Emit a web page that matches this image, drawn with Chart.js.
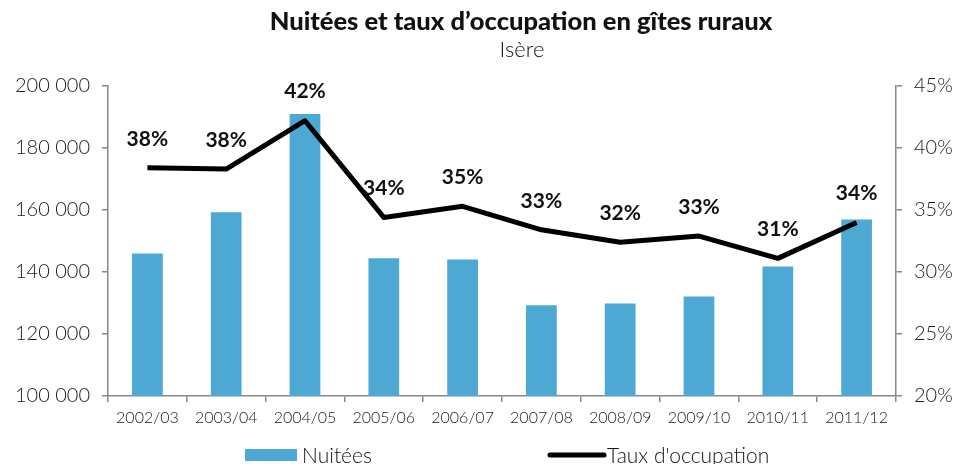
<!DOCTYPE html>
<html>
<head>
<meta charset="utf-8">
<script src="https://cdn.jsdelivr.net/npm/chart.js@4"></script>
<style>
    html, body { margin: 0; padding: 0; background: #fff; }
    #wrap { width: 958px; height: 464px; }
</style>
</head>
<body>
<div id="wrap"><canvas id="chart" width="958" height="464"></canvas></div>
<script>
// data
const saisons = ["2002/03", "2003/04", "2004/05", "2005/06", "2006/07", "2007/08", "2008/09", "2009/10", "2010/11", "2011/12"];
const nuitees = [146000, 159300, 191000, 144400, 144000, 129300, 129800, 132100, 141800, 156900];
const tauxOccupation = [38.4, 38.3, 42.2, 34.4, 35.3, 33.4, 32.4, 32.9, 31.1, 34.0];
const ticksNuitees = [100000, 120000, 140000, 160000, 180000, 200000];
const ticksTaux = [20, 25, 30, 35, 40, 45];

const titre = "Nuitées et taux d’occupation en gîtes ruraux";
const sousTitre = "Isère";

const bleu = "#4ea8d4";
const police = "Lato, 'Open Sans', sans-serif";

function formatMilliers(v) {
    return String(v).replace(/\B(?=(\d{3})+(?!\d))/g, " ");
}

// title, value labels and legend
const decor = {
    id: "decor",
    afterDraw(chart) {
        const ctx = chart.ctx;
        ctx.save();
        ctx.textAlign = "center";
        ctx.textBaseline = "middle";
        ctx.fillStyle = "#111";
        ctx.font = "900 25.5px " + police;
        ctx.fillText(titre, 521, 22);
        ctx.font = "300 22px " + police;
        ctx.fillText(sousTitre, 522, 50);

        // percent labels above the line
        const meta = chart.getDatasetMeta(1);
        ctx.font = "bold 21px " + police;
        meta.data.forEach((pt, i) => {
            ctx.fillText(Math.round(tauxOccupation[i]) + "%", pt.x, pt.y - 29);
        });

        // legend
        ctx.textAlign = "left";
        ctx.font = "300 21px " + police;
        ctx.fillStyle = bleu;
        ctx.fillRect(245, 449, 52, 12);
        ctx.fillStyle = "#111";
        ctx.fillText(chart.data.datasets[0].label, 302, 456);
        ctx.strokeStyle = "#000";
        ctx.lineWidth = 5;
        ctx.lineCap = "round";
        ctx.beginPath();
        ctx.moveTo(550, 455);
        ctx.lineTo(604, 455);
        ctx.stroke();
        ctx.fillText(chart.data.datasets[1].label, 607, 456);
        ctx.restore();
    }
};

new Chart(document.getElementById("chart"), {
    data: {
        labels: saisons,
        datasets: [
            {
                type: "bar",
                label: "Nuitées",
                data: nuitees,
                yAxisID: "y",
                backgroundColor: bleu,
                barPercentage: 0.39,
                categoryPercentage: 1,
                order: 1
            },
            {
                type: "line",
                label: "Taux d'occupation",
                data: tauxOccupation,
                yAxisID: "y2",
                borderColor: "#000",
                borderWidth: 5,
                pointRadius: 0,
                tension: 0,
                borderJoinStyle: "round",
                order: 0
            }
        ]
    },
    options: {
        responsive: false,
        animation: false,
        layout: { padding: { top: 86, left: 0, right: 0, bottom: 0 } },
        plugins: {
            legend: { display: false },
            tooltip: { enabled: false }
        },
        scales: {
            x: {
                grid: { display: true, drawOnChartArea: false, offset: true, color: "#888", tickLength: 6, lineWidth: 1.5 },
                border: { color: "#888", width: 1.5 },
                ticks: { color: "#1a1a1a", font: { family: police, size: 16, weight: "300" }, padding: 6 },
                afterFit: s => { s.height = 68; }
            },
            y: {
                position: "left",
                min: 100000,
                max: 200000,
                afterBuildTicks: s => { s.ticks = ticksNuitees.map(v => ({ value: v })); },
                grid: { display: true, drawOnChartArea: false, color: "#888", tickLength: 6, lineWidth: 1.5 },
                border: { color: "#888", width: 1.5 },
                ticks: {
                    color: "#1a1a1a",
                    font: { family: police, size: 20, weight: "300" },
                    padding: 12,
                    callback: v => formatMilliers(v)
                },
                afterFit: s => { s.width = 108; }
            },
            y2: {
                position: "right",
                min: 20,
                max: 45,
                afterBuildTicks: s => { s.ticks = ticksTaux.map(v => ({ value: v })); },
                grid: { display: true, drawOnChartArea: false, color: "#888", tickLength: 6, lineWidth: 1.5 },
                border: { color: "#888", width: 1.5 },
                ticks: {
                    color: "#1a1a1a",
                    font: { family: police, size: 20, weight: "300" },
                    padding: 12,
                    callback: v => v + "%"
                },
                afterFit: s => { s.width = 62; }
            }
        }
    },
    plugins: [decor]
});
</script>
</body>
</html>
